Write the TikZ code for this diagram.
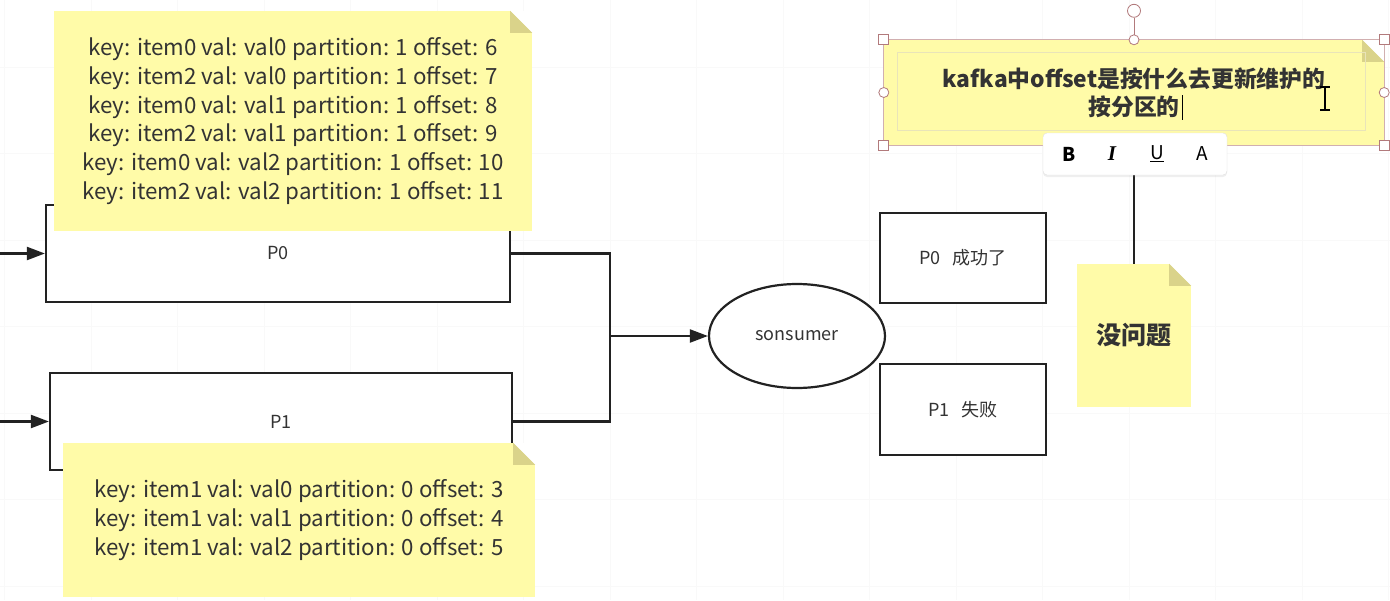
\documentclass[tikz,border=0pt]{standalone}
\usepackage{fontspec}
\setmainfont{Noto Sans CJK SC}
\newfontfamily\toolserif{Liberation Serif}
\usetikzlibrary{arrows.meta,positioning,shapes.geometric,shadows}
\definecolor{notebg}{HTML}{FFFBA8}
\definecolor{notefold}{HTML}{DAD38A}
\definecolor{handle}{HTML}{B27A7C}
\definecolor{ink}{HTML}{222222}
\definecolor{txt}{HTML}{333333}
\tikzset{
  gridline/.style={draw=black!2.5, line width=0.6pt},
  conn/.style={draw=ink, line width=2.2pt},
  arr/.style={conn, -{Triangle[length=18pt,width=13pt]}},
  partbox/.style={draw=ink, line width=2.2pt, fill=white, minimum width=464pt, minimum height=97pt, text=txt, font=\fontsize{18}{21}\selectfont},
  resbox/.style={draw=ink, line width=2.2pt, fill=white, minimum width=166pt, minimum height=90pt, text=txt, font=\fontsize{18}{21}\selectfont},
  note/.style={fill=notebg, text=txt, align=center, inner sep=0pt, font=\fontsize{22.3}{28.8}\selectfont},
  sqhandle/.style={draw=handle, fill=white, line width=0.8pt, minimum size=10pt, inner sep=0pt},
  circhandle/.style={draw=handle, fill=white, line width=0.8pt, circle, minimum size=10pt, inner sep=0pt},
  toolbtn/.style={text=black, font=\fontsize{19}{22}\selectfont},
}
\begin{document}
\begin{tikzpicture}[x=1pt, y=-1pt]
    \useasboundingbox[fill=white] (0,0) rectangle (1390,600);
    % Background grid
    \foreach \gx in {4.5,91,...,1390}
      \draw[gridline] (\gx,0) -- (\gx,600);
    \foreach \gy in {67,153.5,...,600}
      \draw[gridline] (0,\gy) -- (1390,\gy);
    % Partitions
    \node[partbox] (p0) at (278,253.5) {P0};
    \node[partbox, minimum width=462pt] (p1) at (281,421.5) {P1};
    \coordinate (in0) at (0,253.5);
    \coordinate (in1) at (0,421.5);
    \draw[arr] (in0) -- (p0.west);
    \draw[arr] (in1) -- (p1.west);
    % Consumer
    \node[ellipse, draw=ink, line width=2.2pt, fill=white, minimum width=176pt, minimum height=104pt, text=txt, font=\fontsize{18}{21}\selectfont] (cons) at (797,336) {sonsumer};
    \coordinate (join) at (610,336);
    \draw[conn] (p0.east) -| (join);
    \draw[conn] (p1.east) -| (join);
    \draw[arr] (join) -- (cons.west);
    % Results
    \node[resbox] (ok0) at (963,258) {P0\hspace{12pt}成功了};
    \node[resbox, minimum height=91pt] (fail1) at (963,409.5) {P1\hspace{12pt}失败};
    % Notes
    \node[note, minimum width=478pt, minimum height=220pt] (noteA) at (293,121) {key: item0 val: val0 partition: 1 offset: 6\\
      key: item2 val: val0 partition: 1 offset: 7\\
      key: item0 val: val1 partition: 1 offset: 8\\
      key: item2 val: val1 partition: 1 offset: 9\\
      key: item0 val: val2 partition: 1 offset: 10\\
      key: item2 val: val2 partition: 1 offset: 11};
    \node[note, minimum width=472pt, minimum height=154pt] (noteB) at (299,520) {key: item1 val: val0 partition: 0 offset: 3\\
      key: item1 val: val1 partition: 0 offset: 4\\
      key: item1 val: val2 partition: 0 offset: 5};
    \node[note, minimum width=114pt, minimum height=143pt, font=\fontsize{25}{30}\selectfont\bfseries] (noteC) at (1134,335.5) {没问题};
    \node[note, minimum width=500pt, minimum height=105pt, font=\fontsize{22.8}{28}\selectfont\bfseries] (topnote) at (1134,92.5) {kafka中offset是按什么去更新维护的\\按分区的};
    \draw[conn] (topnote.south) -- (noteC.north);
    % Folded corners
    \foreach \n in {noteA,noteB,noteC,topnote} {
      \fill[white] ([xshift=-22pt]\n.north east) -- (\n.north east) -- ([yshift=-22pt]\n.north east) -- cycle;
      \fill[notefold] ([xshift=-22pt]\n.north east) -- ([yshift=-22pt]\n.north east) -- ([xshift=-22pt,yshift=-22pt]\n.north east) -- cycle;
    }
    % Selection frame
    \draw[notefold!60, line width=1pt] (897,52) rectangle (1365,130);
    \draw[handle!60, line width=0.8pt] (topnote.north west) rectangle (topnote.south east);
    \node[circhandle, minimum size=13pt] (rot) at ([yshift=29pt]topnote.north) {};
    \draw[handle, line width=0.8pt] (rot) -- (topnote.north);
    \foreach \a in {north west,north east,south west,south east}
      \node[sqhandle] at (topnote.\a) {};
    \foreach \a in {north,west,east}
      \node[circhandle] at (topnote.\a) {};
    % Cursors
    \draw[black, line width=0.8pt] (1182,95) -- (1182,120);
    \draw[black, line width=1.2pt] (1320,87) -- (1330,87) (1325,87) -- (1325,110) (1320,110) -- (1330,110);
    % Toolbar
    \node[draw=black!12, fill=white, rounded corners=4pt, minimum width=184pt, minimum height=42pt, drop shadow={opacity=0.12, shadow xshift=0pt, shadow yshift=-2pt}] (toolbar) at (1135,154) {};
    \node[toolbtn, font=\fontsize{19}{22}\selectfont\bfseries] (btnB) at (1069,154) {B};
    \node[toolbtn, font=\fontsize{21}{22}\toolserif\bfseries\itshape] (btnI) at (1112,154) {I};
    \node[toolbtn] (btnU) at (1157,154) {\underline{U}};
    \node[toolbtn] (btnA) at (1202,154) {A};
\end{tikzpicture}
\end{document}
